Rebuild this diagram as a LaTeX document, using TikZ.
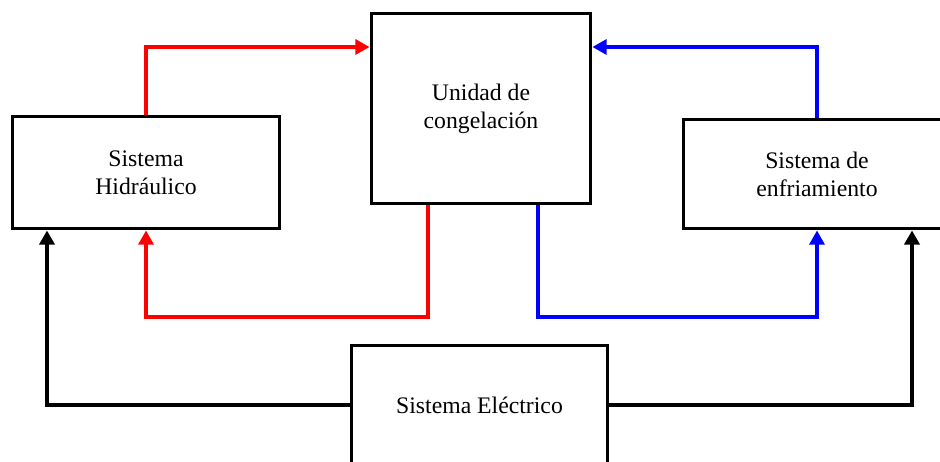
\documentclass[tikz,border=0pt]{standalone}
\usepackage{fontspec}
\setmainfont{Liberation Serif}
\usepackage{tikz}
\usetikzlibrary{arrows.meta,positioning,calc}
\definecolor{fred}{HTML}{FF0000}
\definecolor{fblue}{HTML}{0000FF}
\tikzset{
 box/.style={draw=black,line width=1.7pt,align=center,inner sep=4pt,fill=white,
   font=\fontsize{13.5}{16}\selectfont},
 arrow/.style={-{Triangle[length=8pt,width=8.5pt]},line width=1.8pt,draw=black},
 redarrow/.style={arrow,color=fred},
 bluearrow/.style={arrow,color=fblue},
 blackarrow/.style={arrow,line width=2.3pt}
}
\begin{document}
\begin{tikzpicture}[x=0.02cm,y=-0.02cm]
 \useasboundingbox (0,0) rectangle (940,462);
 \clip (0,0) rectangle (940,462);
 \node[box,minimum width=5.36cm,minimum height=2.26cm] (hyd) at (146,172.5) {Sistema\\Hidráulico};
 \node[box,minimum width=4.4cm,minimum height=3.82cm] (uni) at (481,108.5) {Unidad de\\congelación};
 \node[box,minimum width=5.36cm,minimum height=2.2cm] (enf) at (817,174) {Sistema de\\enfriamiento};
 \node[box,minimum width=5.14cm,minimum height=2.4cm] (ele) at (479.5,405) {Sistema Eléctrico};
 \coordinate (rtop) at (146,47);
 \coordinate (btop) at (817,47);
 \coordinate (rbot) at (428,317);
 \coordinate (bbot) at (538,317);
 \coordinate (kl) at (47,405);
 \coordinate (kr) at (912,405);
 \draw[redarrow] (hyd.north) -- (rtop) -- (rtop -| uni.west);
 \draw[bluearrow] (enf.north) -- (btop) -- (btop -| uni.east);
 \draw[redarrow] (rbot |- uni.south) -- (rbot) -- (rbot -| hyd.south) -- (hyd.south);
 \draw[bluearrow] (bbot |- uni.south) -- (bbot) -- (bbot -| enf.south) -- (enf.south);
 \draw[blackarrow] (ele.west) -- (kl) -- (kl |- hyd.south);
 \draw[blackarrow] (ele.east) -- (kr) -- (kr |- enf.south);
\end{tikzpicture}
\end{document}
